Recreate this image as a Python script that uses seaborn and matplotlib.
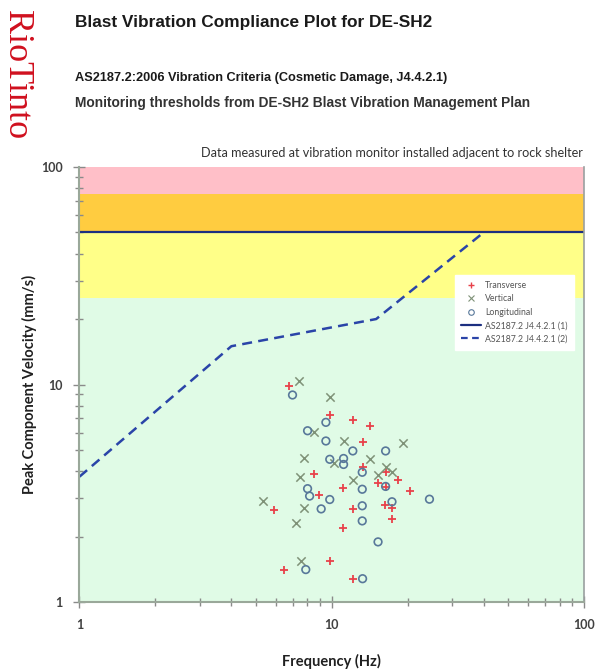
import numpy as np
import matplotlib
matplotlib.use('Agg')
import matplotlib.pyplot as plt
import seaborn as sns
from matplotlib.lines import Line2D
from matplotlib.ticker import LogLocator, NullFormatter, FixedLocator, FixedFormatter

# datos (frecuencia en Hz, velocidad en mm/s)
trans_freq = [6.80, 9.86, 12.14, 14.22, 13.25, 8.52, 13.25, 16.35, 15.20, 18.24, 11.08, 16.35,
              20.36, 8.92, 16.20, 12.14, 17.33, 5.88, 17.33, 11.08, 9.80, 6.49, 12.12]
trans_vel = [9.87, 7.22, 6.87, 6.45, 5.46, 3.87, 4.19, 3.97, 3.51, 3.64, 3.33, 3.39,
             3.25, 3.09, 2.79, 2.67, 2.70, 2.65, 2.41, 2.18, 1.54, 1.41, 1.28]

vert_freq = [7.45, 9.80, 8.52, 11.14, 19.16, 7.73, 10.17, 14.22, 16.35, 17.33, 15.20, 7.50,
             12.12, 5.35, 7.73, 7.23, 7.53]
vert_vel = [10.41, 8.79, 6.07, 5.50, 5.37, 4.58, 4.34, 4.55, 4.18, 3.94, 3.82, 3.76,
            3.64, 2.91, 2.71, 2.31, 1.55]

long_freq = [6.99, 9.48, 8.02, 9.48, 12.12, 16.35, 9.82, 11.14, 11.14, 13.21, 16.35, 13.21,
             8.02, 8.17, 9.82, 17.33, 9.08, 13.21, 13.21, 15.26, 7.89, 13.25, 24.4]
long_vel = [8.95, 6.70, 6.13, 5.50, 4.95, 4.95, 4.53, 4.57, 4.29, 3.95, 3.40, 3.30,
            3.32, 3.07, 2.96, 2.89, 2.68, 2.77, 2.36, 1.89, 1.41, 1.28, 2.97]

# criterios AS2187.2
crit1_freq = [1, 100]
crit1_vel = [50, 50]
crit2_freq = [1, 4, 15, 40]
crit2_vel = [3.77, 15, 20, 50]

# bandas de umbral
bandas = [1, 25, 50, 75, 100]
colores_bandas = ['#e0fbe6', '#ffff88', '#ffcc40', '#ffbfc8']

sns.set_style('white')
plt.rcParams['font.family'] = ['Lato', 'DejaVu Sans']

fig = plt.figure(figsize=(5.95, 6.71), dpi=100)
ax = fig.add_axes([0.1336, 0.1028, 0.8479, 0.6483])

for i in range(len(bandas) - 1):
    ax.axhspan(bandas[i], bandas[i + 1], color=colores_bandas[i], lw=0, zorder=0)

rojo = '#e8414a'
gris = '#7f9278'
azul = '#58789a'

sns.lineplot(x=crit1_freq, y=crit1_vel, ax=ax, color='#1c2f80', lw=1.6, zorder=2)
sns.lineplot(x=crit2_freq, y=crit2_vel, ax=ax, color='#2a44a8', lw=1.8, zorder=2,
             linestyle=(0, (4, 2.5)))

sns.scatterplot(x=trans_freq, y=trans_vel, ax=ax, marker='+', color=rojo, s=36,
                linewidth=1.3, zorder=3)
sns.scatterplot(x=vert_freq, y=vert_vel, ax=ax, marker='x', color=gris, s=36,
                linewidth=1.1, zorder=3)
sns.scatterplot(x=long_freq, y=long_vel, ax=ax, marker='o', facecolor='none',
                edgecolor=azul, s=30, linewidth=1.2, zorder=3)

ax.set_xscale('log')
ax.set_yscale('log')
ax.set_xlim(1, 100)
ax.set_ylim(1, 100)

for a in (ax.xaxis, ax.yaxis):
    a.set_major_locator(FixedLocator([1, 10, 100]))
    a.set_major_formatter(FixedFormatter(['1', '10', '100']))
    a.set_minor_locator(LogLocator(base=10, subs=np.arange(2, 10)))
    a.set_minor_formatter(NullFormatter())

ax.tick_params(which='both', direction='inout', color='#8a8a8a', width=1,
               bottom=True, left=True)
ax.tick_params(which='major', length=8, labelsize=9, labelcolor='#404040', pad=8)
ax.tick_params(which='minor', length=6)
for lab in ax.get_xticklabels() + ax.get_yticklabels():
    lab.set_fontweight('bold')

for lado in ['left', 'bottom']:
    ax.spines[lado].set_color('#9aa89a')
    ax.spines[lado].set_linewidth(1.5)
ax.spines['right'].set_color('#9aa0a0')
ax.spines['right'].set_linewidth(1.2)
ax.spines['top'].set_visible(False)

ax.set_xlabel('Frequency (Hz)', fontsize=10.5, fontweight='bold', color='#202020', labelpad=17)
ax.set_ylabel('Peak Component Velocity (mm/s)', fontsize=10.5, fontweight='bold',
              color='#202020', labelpad=3)

handles = [
    Line2D([], [], marker='+', color=rojo, lw=0, markersize=5, markeredgewidth=1),
    Line2D([], [], marker='x', color=gris, lw=0, markersize=4, markeredgewidth=0.8),
    Line2D([], [], marker='o', color=azul, lw=0, markersize=4, markerfacecolor='none',
           markeredgewidth=0.8),
    Line2D([], [], color='#1c2f80', lw=1.6),
    Line2D([], [], color='#2a44a8', lw=1.6, linestyle=(0, (3, 2))),
]
etiquetas = ['Transverse', 'Vertical', 'Longitudinal', 'AS2187.2 J4.4.2.1 (1)',
             'AS2187.2 J4.4.2.1 (2)']
leg = ax.legend(handles, etiquetas, loc='upper left', bbox_to_anchor=(0.736, 0.762),
                fontsize=6.3, frameon=True, fancybox=False, framealpha=1,
                edgecolor='white', handlelength=2.2, labelspacing=0.5,
                borderpad=0.7, handletextpad=0.5)
for t in leg.get_texts():
    t.set_color('#555555')

# textos
fig.text(0.028, 0.985, 'RioTinto', rotation=-90, va='top', ha='center', fontsize=26,
         color='#d0101e', family=['Liberation Serif', 'DejaVu Serif'])
fig.text(0.126, 0.967, 'Blast Vibration Compliance Plot for DE-SH2', fontsize=12.4,
         fontweight='bold', color='#1a1a1a', va='center',
         family=['Liberation Sans', 'DejaVu Sans'])
fig.text(0.126, 0.884, 'AS2187.2:2006 Vibration Criteria (Cosmetic Damage, J4.4.2.1)',
         fontsize=9.15, fontweight='bold', color='#1a1a1a', va='center',
         family=['Liberation Sans', 'DejaVu Sans'])
fig.text(0.126, 0.847, 'Monitoring thresholds from DE-SH2 Blast Vibration Management Plan',
         fontsize=9.95, fontweight='bold', color='#333333', va='center',
         family=['Liberation Sans', 'DejaVu Sans'])
fig.text(0.979, 0.772, 'Data measured at vibration monitor installed adjacent to rock shelter',
         fontsize=9.1, color='#333333', ha='right', va='center')

fig.savefig('out.png', dpi=100)
